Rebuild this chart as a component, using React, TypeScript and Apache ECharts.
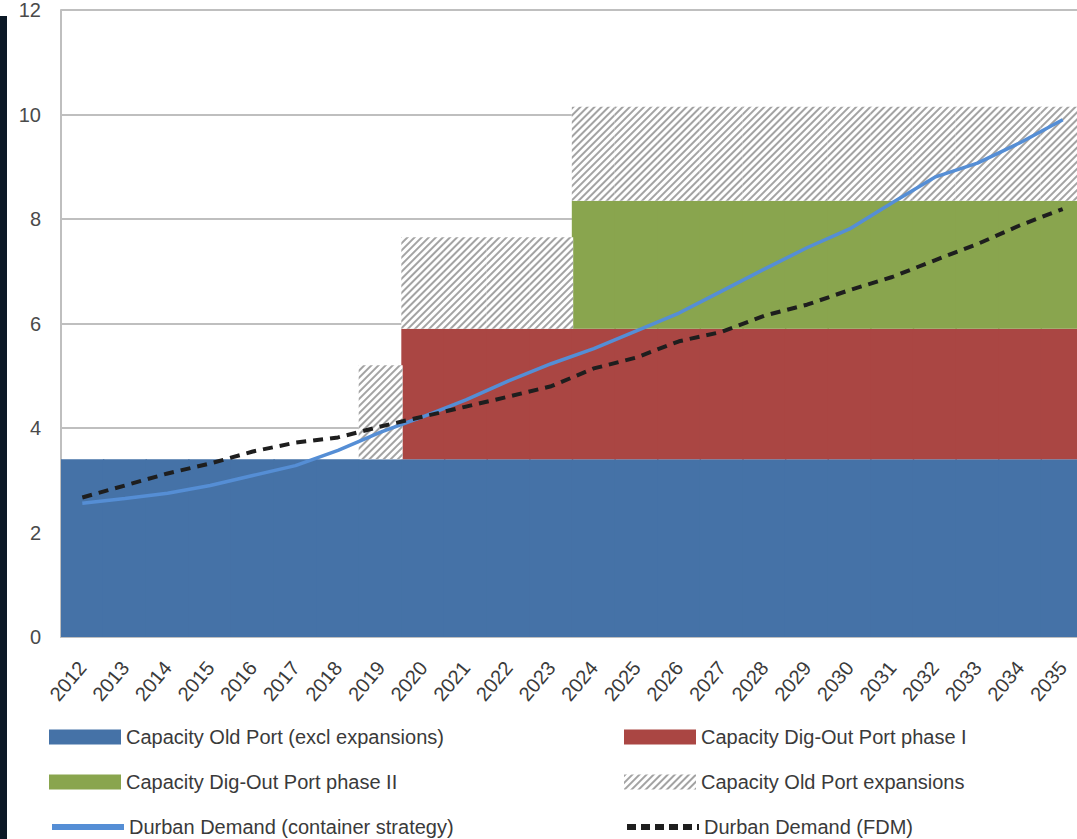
import React, { useEffect, useRef } from "react";
import * as echarts from "echarts";

const years = [
  "2012", "2013", "2014", "2015", "2016", "2017", "2018", "2019", "2020", "2021", "2022", "2023",
  "2024", "2025", "2026", "2027", "2028", "2029", "2030", "2031", "2032", "2033", "2034", "2035",
];

const capacityOldPort = [
  3.4, 3.4, 3.4, 3.4, 3.4, 3.4, 3.4, 3.4, 3.4, 3.4, 3.4, 3.4,
  3.4, 3.4, 3.4, 3.4, 3.4, 3.4, 3.4, 3.4, 3.4, 3.4, 3.4, 3.4,
];
const capacityDigOutI = [
  0, 0, 0, 0, 0, 0, 0, 0, 2.5, 2.5, 2.5, 2.5,
  2.5, 2.5, 2.5, 2.5, 2.5, 2.5, 2.5, 2.5, 2.5, 2.5, 2.5, 2.5,
];
const capacityDigOutII = [
  0, 0, 0, 0, 0, 0, 0, 0, 0, 0, 0, 0,
  2.45, 2.45, 2.45, 2.45, 2.45, 2.45, 2.45, 2.45, 2.45, 2.45, 2.45, 2.45,
];
const capacityOldPortExp = [
  0, 0, 0, 0, 0, 0, 0, 1.8, 1.75, 1.75, 1.75, 1.75,
  1.8, 1.8, 1.8, 1.8, 1.8, 1.8, 1.8, 1.8, 1.8, 1.8, 1.8, 1.8,
];
const demandContainer = [
  2.56, 2.65, 2.75, 2.9, 3.09, 3.28, 3.57, 3.92, 4.22, 4.54, 4.9, 5.23,
  5.52, 5.86, 6.2, 6.62, 7.04, 7.45, 7.81, 8.31, 8.8, 9.07, 9.46, 9.9,
];
const demandFDM = [
  2.67, 2.9, 3.13, 3.32, 3.55, 3.72, 3.82, 4.03, 4.22, 4.41, 4.6, 4.8,
  5.14, 5.35, 5.66, 5.84, 6.15, 6.36, 6.64, 6.89, 7.21, 7.52, 7.88, 8.19,
];

const N_OLD = "Capacity Old Port (excl expansions)";
const N_DIG1 = "Capacity Dig-Out Port phase I";
const N_DIG2 = "Capacity Dig-Out Port phase II";
const N_EXP = "Capacity Old Port expansions";
const N_DEM1 = "Durban Demand (container strategy)";
const N_DEM2 = "Durban Demand (FDM)";

const FONT = "'Liberation Sans', Arial, sans-serif";

export default function App() {
  const ref = useRef<HTMLDivElement>(null);
  useEffect(() => {
    if (!ref.current) return;
    const chart = echarts.init(ref.current, undefined, { renderer: "svg" });
    const legendText = { fontFamily: FONT, fontSize: 20, color: "#3a3a3a" };
    const mkLegend = (name: string, left: number, top: number, line?: any) => {
      const l: any = {
        data: [name],
        left,
        top,
        itemWidth: 72,
        itemHeight: 15,
        itemGap: 0,
        padding: 0,
        selectedMode: false,
        textStyle: legendText,
      };
      if (line) {
        l.itemStyle = { opacity: 0 };
        l.lineStyle = line;
      } else l.icon = "rect";
      return l;
    };
    const hatch = {
      symbol: "rect",
      symbolSize: 1,
      dashArrayX: [1, 0],
      dashArrayY: [2, 3],
      rotation: -Math.PI / 4,
      color: "#a3a3a3",
      backgroundColor: "#ffffff",
    };
    chart.setOption({
      animation: false,
      backgroundColor: "#ffffff",
      grid: {
        left: 61,
        top: 10,
        width: 1023,
        height: 627,
        containLabel: false,
        outerBoundsMode: "none",
      },
      legend: [
        mkLegend(N_OLD, 49, 727),
        mkLegend(N_DIG1, 624, 727),
        mkLegend(N_DIG2, 49, 772),
        mkLegend(N_EXP, 624, 772),
        mkLegend(N_DEM1, 49, 817, { width: 6, color: "#558ED5" }),
        mkLegend(N_DEM2, 624, 817, { width: 6, type: [9, 5], color: "#1e1e1e" }),
      ],
      xAxis: {
        type: "category",
        data: years,
        boundaryGap: true,
        axisLine: { show: true, lineStyle: { color: "#bfbfbf", width: 2 } },
        axisTick: { show: false },
        axisLabel: {
          interval: 0,
          rotate: 50,
          margin: 27,
          fontFamily: FONT,
          fontSize: 20,
          color: "#3a3a3a",
        },
      },
      yAxis: {
        type: "value",
        min: 0,
        max: 12,
        interval: 2,
        axisLine: { show: true, lineStyle: { color: "#bfbfbf", width: 2 } },
        axisTick: { show: false },
        splitLine: { show: true, lineStyle: { color: "#bfbfbf", width: 2 } },
        axisLabel: {
          margin: 20,
          fontFamily: FONT,
          fontSize: 20,
          color: "#4a4a4a",
        },
      },
      graphic: [
        {
          type: "rect",
          shape: { x: 0, y: 16, width: 7, height: 823 },
          style: { fill: "#0b1826" },
          silent: true,
        },
      ],
      series: [
        {
          name: N_OLD,
          type: "bar",
          stack: "cap",
          barWidth: 44,
          data: capacityOldPort,
          itemStyle: { color: "#4572A7" },
          z: 1,
        },
        {
          name: N_DIG1,
          type: "bar",
          stack: "cap",
          barWidth: 44,
          data: capacityDigOutI,
          itemStyle: { color: "#AA4643" },
          z: 1,
        },
        {
          name: N_DIG2,
          type: "bar",
          stack: "cap",
          barWidth: 44,
          data: capacityDigOutII,
          itemStyle: { color: "#89A54E" },
          z: 1,
        },
        {
          name: N_EXP,
          type: "bar",
          stack: "cap",
          barWidth: 44,
          data: capacityOldPortExp,
          itemStyle: { color: "#ffffff", decal: hatch },
          z: 1,
        },
        {
          name: N_DEM1,
          type: "line",
          data: demandContainer,
          symbol: "none",
          showSymbol: false,
          lineStyle: { color: "#558ED5", width: 3.5 },
          itemStyle: { color: "#558ED5" },
          z: 5,
        },
        {
          name: N_DEM2,
          type: "line",
          data: demandFDM,
          symbol: "none",
          showSymbol: false,
          lineStyle: { color: "#1e1e1e", width: 4, type: [10, 7] },
          itemStyle: { color: "#1e1e1e" },
          z: 6,
        },
      ],
    });
    return () => chart.dispose();
  }, []);
  return (
    <div
      ref={ref}
      style={{ position: "fixed", left: 0, top: 0, width: 1077, height: 839 }}
    />
  );
}
